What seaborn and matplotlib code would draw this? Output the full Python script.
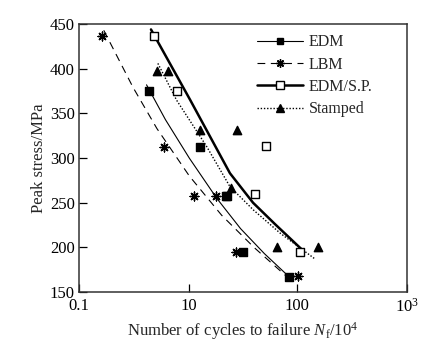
import numpy as np
import pandas as pd
import matplotlib
matplotlib.use("Agg")
import matplotlib.pyplot as plt
from matplotlib.lines import Line2D
from matplotlib.ticker import NullLocator
import seaborn as sns

# measured points (cycles to failure /10^4, peak stress MPa)
edm_n = [4.2, 12.6, 21.8, 31.4, 84.7]
edm_s = [375, 312, 258, 195, 167]
lbm_n = [1.54, 5.85, 11.1, 17.7, 27.4, 102]
lbm_s = [437, 312, 258, 258, 195, 168]
sp_n = [4.72, 7.64, 22.6, 40.9, 51.4, 107]
sp_s = [437, 375, 258, 260, 313, 195]
st_n = [5.04, 6.37, 12.6, 28.0, 24.4, 65.2, 157]
st_s = [398, 398, 331, 331, 266, 200, 200]

# fitted curves
edm_fit_n = [4.0, 6, 10, 18, 30, 50, 85]
edm_fit_s = [382, 343, 300, 255, 221, 193, 167]
lbm_fit_n = [1.6, 3, 5, 10, 20, 40, 83]
lbm_fit_s = [443, 379, 333, 280, 236, 200, 166]
sp_fit_n = [4.4, 10.2, 23.9, 39.2, 62.8, 113]
sp_fit_s = [444, 365, 283, 250, 226, 197]
st_fit_n = [5.1, 7.6, 14.5, 23.9, 39.4, 70, 148]
st_fit_s = [406, 365, 313, 268, 242, 216, 187]

labels = ["EDM", "LBM", "EDM/S.P.", "Stamped"]
x_lo, x_hi = 0.94, 1064
xtick_labels = ["0.1", "10", "100", "$10^3$"]
yticks = [150, 200, 250, 300, 350, 400, 450]

sns.set_theme(style="ticks")
plt.rcParams['font.family'] = ['Liberation Serif', 'DejaVu Serif']
plt.rcParams['mathtext.fontset'] = 'custom'
plt.rcParams['mathtext.rm'] = 'Liberation Serif'
plt.rcParams['mathtext.it'] = 'Liberation Serif:italic'

fig = plt.figure(figsize=(4.29, 3.44), dpi=100)
ax = fig.add_axes([0.184, 0.151, 0.765, 0.779])

# fit lines
line_styles = {
    "EDM": dict(color="black", lw=0.8, ls="-"),
    "LBM": dict(color="black", lw=0.8, dashes=(7, 5)),
    "EDM/S.P.": dict(color="black", lw=1.8, ls="-"),
    "Stamped": dict(color="black", lw=1.0, ls=(0, (1, 1.3))),
}
fits = {
    "EDM": (edm_fit_n, edm_fit_s),
    "LBM": (lbm_fit_n, lbm_fit_s),
    "EDM/S.P.": (sp_fit_n, sp_fit_s),
    "Stamped": (st_fit_n, st_fit_s),
}
for name, (n, s) in fits.items():
    df = pd.DataFrame({"N": n, "S": s})
    sns.lineplot(data=df, x="N", y="S", ax=ax, sort=False, estimator=None,
                 **line_styles[name], zorder=2)

marker_styles = {
    "EDM": dict(marker="s", s=26, color="black", edgecolor="black", zorder=5),
    "LBM": dict(marker=(8, 2, 0), s=40, color="black", linewidth=1.0, zorder=4),
    "EDM/S.P.": dict(marker="s", s=30, facecolor="white", edgecolor="black",
                     linewidth=1.0, zorder=3),
    "Stamped": dict(marker="^", s=36, color="black", edgecolor="black", zorder=4),
}
points = {
    "EDM": (edm_n, edm_s),
    "LBM": (lbm_n, lbm_s),
    "EDM/S.P.": (sp_n, sp_s),
    "Stamped": (st_n, st_s),
}
for name, (n, s) in points.items():
    ax.scatter(n, s, **marker_styles[name])

ax.set_xscale("log")
ax.set_xlim(x_lo, x_hi)
ax.set_ylim(150, 450)
ax.set_xticks([x_lo, 10, 100, x_hi])
ax.set_xticklabels(xtick_labels)
ax.xaxis.set_minor_locator(NullLocator())
ax.set_yticks(yticks)
ax.tick_params(axis="both", direction="in", length=6, width=0.9,
               labelsize=12, colors="black")
ax.tick_params(axis="x", pad=4)
ax.tick_params(axis="y", pad=3)

for sp in ax.spines.values():
    sp.set_visible(True)
    sp.set_color("#333333")
    sp.set_linewidth(1.1)

ax.set_xlabel("Number of cycles to failure $N_\\mathrm{f}$/10$^4$", fontsize=12, labelpad=3)
ax.set_ylabel("Peak stress/MPa", fontsize=12, labelpad=2)

handles = [
    Line2D([], [], color="black", lw=0.8, marker="s", ms=5),
    Line2D([], [], color="black", lw=0.8, dashes=(7, 5), marker=(8, 2, 0), ms=6),
    Line2D([], [], color="black", lw=1.8, marker="s", ms=6, mfc="white", mew=1.0),
    Line2D([], [], color="black", lw=1.0, ls=(0, (1, 1.3)), marker="^", ms=6),
]
ax.legend(handles, labels, loc="upper left", frameon=False, fontsize=11.5,
          handlelength=2.9, handletextpad=0.35, labelspacing=0.4,
          bbox_to_anchor=(0.523, 0.986), borderaxespad=0.0)

fig.savefig("out.png", dpi=100)
